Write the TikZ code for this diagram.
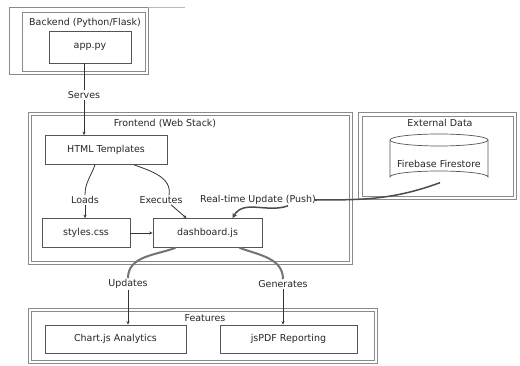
\documentclass[tikz,border=0pt]{standalone}
\usepackage{fontspec}
\setmainfont{DejaVu Sans}
\usetikzlibrary{arrows.meta}
\definecolor{edgec}{HTML}{333333}
\definecolor{clus}{HTML}{8A8A8A}
\definecolor{boxc}{HTML}{555555}
\begin{document}
\begin{tikzpicture}[x=1pt,y=-1pt,
  every node/.style={font=\fontsize{9.5}{11}\selectfont, text=black!85},
  box/.style={draw=boxc, line width=0.7pt, minimum width=#1, minimum height=29pt, inner sep=0pt},
  lbl/.style={inner sep=1pt},
  cluster/.style={draw=clus, line width=0.7pt},
  arr/.style={draw=edgec, line width=0.8pt, -{Stealth[length=3.5pt,width=3pt]}},
  thin/.style={draw=edgec, line width=0.8pt},
  thickgray/.style={draw=black!55, line width=2pt},
  thickdark/.style={draw=black!70, line width=1.5pt}]
\useasboundingbox[fill=white] (0,0) rectangle (520,366);
% clusters
\draw[cluster] (9,7) rectangle (148,74);
\draw[cluster] (22,12) rectangle (145,71);
\draw[draw=clus!60, line width=0.7pt] (148,7) -- (185,7);
\draw[cluster] (28,112) rectangle (352,264);
\draw[cluster] (31,115) rectangle (349,261);
\draw[cluster] (358,112) rectangle (516,199);
\draw[cluster] (362,116) rectangle (513,196);
\draw[cluster] (28,308) rectangle (377,363);
\draw[cluster] (31,311) rectangle (374,360);
% cluster labels
\node (lback) at (85,23) {Backend (Python/Flask)};
\node (lfront) at (165,124) {Frontend (Web Stack)};
\node (lext) at (440,123) {External Data};
\node (lfeat) at (205,318) {Features};
% nodes
\node[box=82pt, minimum height=32pt] (app) at (90,47) {app.py};
\node[box=122pt] (html) at (106,150) {HTML Templates};
\node[box=88pt] (css) at (86,233) {styles.css};
\node[box=109pt] (dash) at (207.5,233) {dashboard.js};
\node[box=141pt, minimum height=28pt] (chart) at (115.5,339) {Chart.js Analytics};
\node[box=137pt, minimum height=28pt] (pdf) at (288.5,339) {jsPDF Reporting};
% cylinder
\draw[draw=boxc, line width=0.7pt, fill=white] (390,140) -- (390,177) arc[start angle=180,end angle=360,x radius=49,y radius=6] -- (488,140);
\draw[draw=boxc, line width=0.7pt, fill=white] (439,140) ellipse[x radius=49, y radius=6];
\node[minimum width=98pt, minimum height=37pt, inner sep=0pt] (fb) at (439,164) {Firebase Firestore};
% edge labels
\node[lbl] (serves) at (84,95) {Serves};
\node[lbl] (loads) at (85,200) {Loads};
\node[lbl] (exec) at (161,200) {Executes};
\node[lbl] (rt) at (258,200) {Real-time Update (Push)};
\node[lbl] (upd) at (128,284) {Updates};
\node[lbl] (gen) at (283,284) {Generates};
% edges
\draw[thin] (app.south -| serves) -- (serves.north);
\draw[arr] (serves.south) -- (serves.south |- html.north);
\draw[thin] ([xshift=-11pt]html.south) to[out=-110,in=90] (loads.north);
\draw[arr] (loads.south) -- (loads.south |- css.north);
\draw[thin] ([xshift=28pt]html.south) to[out=-20,in=80] ([xshift=8pt]exec.north);
\draw[arr] ([xshift=10pt]exec.south) -- ([xshift=-21pt]dash.north);
\draw[arr] (css.east) -- (dash.west);
\draw[thickdark] ([xshift=1pt]fb.south) to[out=-160,in=0] ([xshift=-2pt]rt.east);
\draw[thickdark] ([xshift=-2pt]rt.east) -- (rt.east);
\draw[thickdark, -{Stealth[length=5pt,width=5pt]}] ([xshift=30pt]rt.south) to[out=-160,in=60] ([xshift=25pt]dash.north);
\draw[thickgray] ([xshift=-32pt]dash.south) to[out=-160,in=90] (upd.north);
\draw[arr] (upd.south) -- (upd.south |- chart.north);
\draw[thickgray] ([xshift=32pt]dash.south) to[out=-20,in=90] (gen.north);
\draw[arr] (gen.south) -- (gen.south |- pdf.north);
\end{tikzpicture}
\end{document}
